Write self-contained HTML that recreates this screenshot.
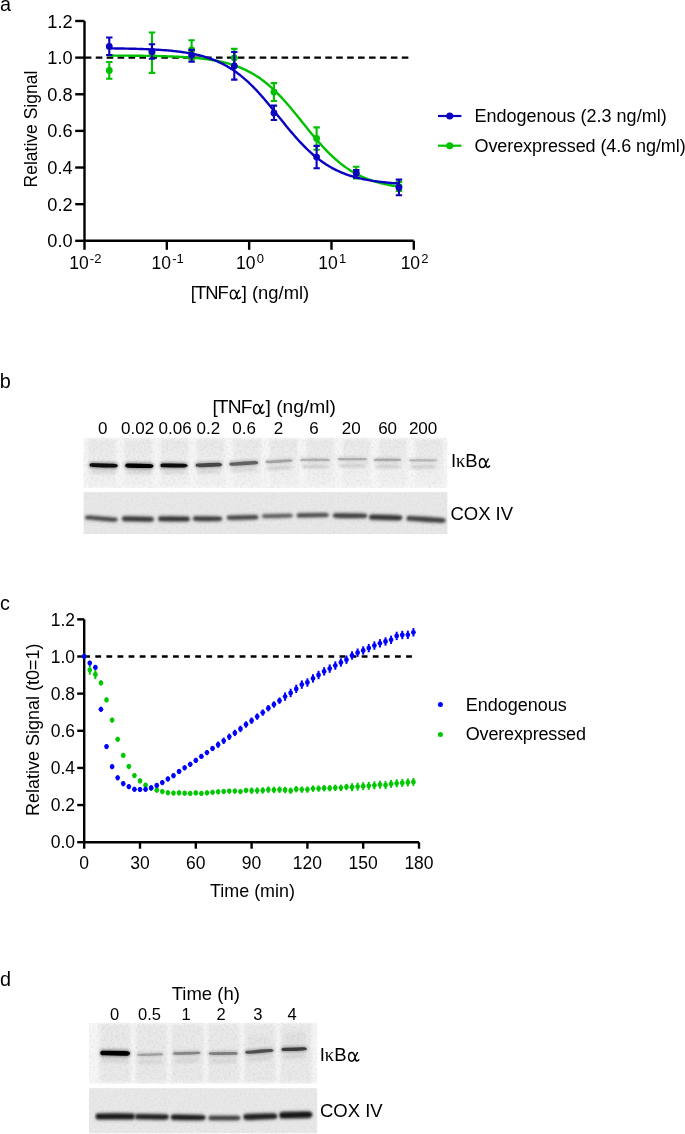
<!DOCTYPE html>
<html><head><meta charset="utf-8"><style>
html,body{margin:0;padding:0;background:#fff;}
body{width:685px;height:1134px;overflow:hidden;font-family:"Liberation Sans", sans-serif;}
svg{display:block;will-change:transform;}
</style></head><body>
<svg width="685" height="1134" viewBox="0 0 685 1134" font-family='"Liberation Sans", sans-serif' fill="#000"><defs><filter id="b1" x="-20%" y="-100%" width="140%" height="300%"><feGaussianBlur stdDeviation="0.75"/></filter><filter id="b2" x="-20%" y="-100%" width="140%" height="300%"><feGaussianBlur stdDeviation="1.4"/></filter><filter id="b4" x="-20%" y="-100%" width="140%" height="300%"><feGaussianBlur stdDeviation="1.05"/></filter><linearGradient id="laneg" x1="0" y1="0" x2="0" y2="1"><stop offset="0" stop-color="rgb(232,232,232)"/><stop offset="0.45" stop-color="rgb(237,237,237)"/><stop offset="1" stop-color="rgb(242,242,242)"/></linearGradient><filter id="noise" x="0" y="0" width="100%" height="100%"><feTurbulence type="fractalNoise" baseFrequency="0.45" numOctaves="2" seed="3" result="t"/><feColorMatrix in="t" type="matrix" values="0 0 0 0 0  0 0 0 0 0  0 0 0 0 0  0.9 0 0 0 -0.38"/><feGaussianBlur stdDeviation="0.7"/><feComposite in2="SourceGraphic" operator="in"/></filter><filter id="b3" x="-20%" y="-100%" width="140%" height="300%"><feGaussianBlur stdDeviation="1.6"/></filter></defs><text x="0" y="10.6" font-size="19.8">a</text>
<path d="M84.5,21.0 V240.8 H413.8" fill="none" stroke="#000" stroke-width="2.4"/>
<line x1="75.2" y1="240.80" x2="84.5" y2="240.80" stroke="#000" stroke-width="2.4"/>
<text x="72.6" y="247.30" font-size="18.2" text-anchor="end">0.0</text>
<line x1="75.2" y1="204.17" x2="84.5" y2="204.17" stroke="#000" stroke-width="2.4"/>
<text x="72.6" y="210.67" font-size="18.2" text-anchor="end">0.2</text>
<line x1="75.2" y1="167.53" x2="84.5" y2="167.53" stroke="#000" stroke-width="2.4"/>
<text x="72.6" y="174.03" font-size="18.2" text-anchor="end">0.4</text>
<line x1="75.2" y1="130.90" x2="84.5" y2="130.90" stroke="#000" stroke-width="2.4"/>
<text x="72.6" y="137.40" font-size="18.2" text-anchor="end">0.6</text>
<line x1="75.2" y1="94.27" x2="84.5" y2="94.27" stroke="#000" stroke-width="2.4"/>
<text x="72.6" y="100.77" font-size="18.2" text-anchor="end">0.8</text>
<line x1="75.2" y1="57.63" x2="84.5" y2="57.63" stroke="#000" stroke-width="2.4"/>
<text x="72.6" y="64.13" font-size="18.2" text-anchor="end">1.0</text>
<line x1="75.2" y1="21.00" x2="84.5" y2="21.00" stroke="#000" stroke-width="2.4"/>
<text x="72.6" y="27.50" font-size="18.2" text-anchor="end">1.2</text>
<line x1="84.50" y1="240.8" x2="84.50" y2="249.8" stroke="#000" stroke-width="2.4"/>
<text x="85.30" y="269.1" font-size="17.5" text-anchor="middle">10<tspan font-size="13" dx="1.2" dy="-6.3">-2</tspan></text>
<line x1="166.82" y1="240.8" x2="166.82" y2="249.8" stroke="#000" stroke-width="2.4"/>
<text x="167.62" y="269.1" font-size="17.5" text-anchor="middle">10<tspan font-size="13" dx="1.2" dy="-6.3">-1</tspan></text>
<line x1="249.15" y1="240.8" x2="249.15" y2="249.8" stroke="#000" stroke-width="2.4"/>
<text x="249.95" y="269.1" font-size="17.5" text-anchor="middle">10<tspan font-size="13" dx="1.2" dy="-6.3">0</tspan></text>
<line x1="331.48" y1="240.8" x2="331.48" y2="249.8" stroke="#000" stroke-width="2.4"/>
<text x="332.28" y="269.1" font-size="17.5" text-anchor="middle">10<tspan font-size="13" dx="1.2" dy="-6.3">1</tspan></text>
<line x1="413.80" y1="240.8" x2="413.80" y2="249.8" stroke="#000" stroke-width="2.4"/>
<text x="414.60" y="269.1" font-size="17.5" text-anchor="middle">10<tspan font-size="13" dx="1.2" dy="-6.3">2</tspan></text>
<text x="190.69" y="298.6" font-size="18.4" letter-spacing="-0.9">[TNF</text><path d="M236.71,294.55 C235.97,291.79 235.05,290.14 233.58,290.14 C231.56,290.14 230.36,292.34 230.36,294.74 C230.36,297.31 231.56,298.88 233.40,298.88 C235.05,298.88 236.16,296.94 236.71,294.55 M239.10,290.32 C238.18,292.16 237.26,293.45 236.71,294.55 C236.89,296.39 237.26,298.23 238.18,298.60 C239.10,298.88 239.84,298.05 240.48,297.31" fill="none" stroke="#000" stroke-width="1.44" stroke-linecap="round"/><text x="241.76" y="298.6" font-size="18.4">] (ng/ml)</text>
<text transform="translate(37.4,129.1) rotate(-90)" font-size="17.5" text-anchor="middle">Relative Signal</text>
<line x1="84.8" y1="57.63" x2="408.6" y2="57.63" stroke="#000" stroke-width="2.3" stroke-dasharray="6.6 4.33"/>
<path d="M109.28,55.56 L110.73,55.56 L112.18,55.57 L113.63,55.58 L115.08,55.58 L116.52,55.59 L117.97,55.60 L119.42,55.61 L120.87,55.62 L122.32,55.62 L123.77,55.63 L125.21,55.64 L126.66,55.65 L128.11,55.66 L129.56,55.68 L131.01,55.69 L132.46,55.70 L133.90,55.72 L135.35,55.73 L136.80,55.74 L138.25,55.76 L139.70,55.78 L141.15,55.80 L142.59,55.81 L144.04,55.83 L145.49,55.85 L146.94,55.88 L148.39,55.90 L149.83,55.92 L151.28,55.95 L152.73,55.98 L154.18,56.01 L155.63,56.04 L157.08,56.07 L158.52,56.10 L159.97,56.14 L161.42,56.17 L162.87,56.21 L164.32,56.26 L165.77,56.30 L167.21,56.35 L168.66,56.39 L170.11,56.45 L171.56,56.50 L173.01,56.56 L174.46,56.62 L175.90,56.68 L177.35,56.75 L178.80,56.82 L180.25,56.89 L181.70,56.97 L183.15,57.05 L184.59,57.14 L186.04,57.23 L187.49,57.33 L188.94,57.43 L190.39,57.53 L191.84,57.65 L193.28,57.77 L194.73,57.89 L196.18,58.02 L197.63,58.16 L199.08,58.31 L200.53,58.46 L201.97,58.62 L203.42,58.79 L204.87,58.97 L206.32,59.16 L207.77,59.35 L209.22,59.56 L210.66,59.78 L212.11,60.01 L213.56,60.25 L215.01,60.51 L216.46,60.77 L217.91,61.05 L219.35,61.35 L220.80,61.66 L222.25,61.98 L223.70,62.32 L225.15,62.68 L226.60,63.05 L228.04,63.45 L229.49,63.86 L230.94,64.29 L232.39,64.74 L233.84,65.21 L235.29,65.71 L236.73,66.23 L238.18,66.77 L239.63,67.34 L241.08,67.93 L242.53,68.55 L243.97,69.20 L245.42,69.87 L246.87,70.58 L248.32,71.31 L249.77,72.07 L251.22,72.87 L252.66,73.70 L254.11,74.56 L255.56,75.45 L257.01,76.38 L258.46,77.35 L259.91,78.34 L261.35,79.38 L262.80,80.45 L264.25,81.56 L265.70,82.70 L267.15,83.89 L268.60,85.11 L270.04,86.36 L271.49,87.66 L272.94,88.99 L274.39,90.35 L275.84,91.75 L277.29,93.19 L278.73,94.66 L280.18,96.17 L281.63,97.70 L283.08,99.27 L284.53,100.87 L285.98,102.50 L287.42,104.15 L288.87,105.83 L290.32,107.53 L291.77,109.25 L293.22,110.99 L294.67,112.74 L296.11,114.51 L297.56,116.29 L299.01,118.09 L300.46,119.88 L301.91,121.69 L303.36,123.49 L304.80,125.29 L306.25,127.09 L307.70,128.89 L309.15,130.67 L310.60,132.45 L312.05,134.21 L313.49,135.95 L314.94,137.68 L316.39,139.39 L317.84,141.07 L319.29,142.74 L320.74,144.37 L322.18,145.98 L323.63,147.56 L325.08,149.10 L326.53,150.62 L327.98,152.10 L329.43,153.55 L330.87,154.97 L332.32,156.34 L333.77,157.69 L335.22,158.99 L336.67,160.26 L338.12,161.49 L339.56,162.69 L341.01,163.85 L342.46,164.97 L343.91,166.05 L345.36,167.10 L346.80,168.11 L348.25,169.09 L349.70,170.03 L351.15,170.93 L352.60,171.80 L354.05,172.64 L355.49,173.45 L356.94,174.22 L358.39,174.97 L359.84,175.68 L361.29,176.37 L362.74,177.02 L364.18,177.65 L365.63,178.25 L367.08,178.83 L368.53,179.38 L369.98,179.91 L371.43,180.41 L372.87,180.89 L374.32,181.35 L375.77,181.79 L377.22,182.21 L378.67,182.61 L380.12,182.99 L381.56,183.35 L383.01,183.70 L384.46,184.03 L385.91,184.34 L387.36,184.64 L388.81,184.93 L390.25,185.20 L391.70,185.45 L393.15,185.70 L394.60,185.93 L396.05,186.16 L397.50,186.37 L398.94,186.57" fill="none" stroke="#00c000" stroke-width="2.4"/>
<path d="M109.28,62.0 V78.8 M106.08,62.0 h6.4 M106.08,78.8 h6.4" stroke="#00c000" stroke-width="2.1" fill="none"/><circle cx="109.28" cy="70.4" r="3.4" fill="#00c000"/><path d="M151.97,32.5 V72.9 M148.77,32.5 h6.4 M148.77,72.9 h6.4" stroke="#00c000" stroke-width="2.1" fill="none"/><circle cx="151.97" cy="52.7" r="3.4" fill="#00c000"/><path d="M191.61,40.3 V59.8 M188.41,40.3 h6.4 M188.41,59.8 h6.4" stroke="#00c000" stroke-width="2.1" fill="none"/><circle cx="191.61" cy="49.9" r="3.4" fill="#00c000"/><path d="M234.29,48.9 V67.0 M231.09,48.9 h6.4 M231.09,67.0 h6.4" stroke="#00c000" stroke-width="2.1" fill="none"/><circle cx="234.29" cy="58.0" r="3.4" fill="#00c000"/><path d="M273.93,83.1 V101.0 M270.73,83.1 h6.4 M270.73,101.0 h6.4" stroke="#00c000" stroke-width="2.1" fill="none"/><circle cx="273.93" cy="92.0" r="3.4" fill="#00c000"/><path d="M316.62,127.4 V149.8 M313.42,127.4 h6.4 M313.42,149.8 h6.4" stroke="#00c000" stroke-width="2.1" fill="none"/><circle cx="316.62" cy="138.4" r="3.4" fill="#00c000"/><path d="M356.26,166.8 V178.5 M353.06,166.8 h6.4 M353.06,178.5 h6.4" stroke="#00c000" stroke-width="2.1" fill="none"/><circle cx="356.26" cy="172.6" r="3.4" fill="#00c000"/><path d="M398.94,182 V191 M395.74,182 h6.4 M395.74,191 h6.4" stroke="#00c000" stroke-width="2.1" fill="none"/><circle cx="398.94" cy="186.6" r="3.4" fill="#00c000"/>
<path d="M109.28,48.36 L110.73,48.38 L112.18,48.39 L113.63,48.41 L115.08,48.43 L116.52,48.45 L117.97,48.47 L119.42,48.49 L120.87,48.51 L122.32,48.54 L123.77,48.56 L125.21,48.59 L126.66,48.62 L128.11,48.65 L129.56,48.68 L131.01,48.71 L132.46,48.74 L133.90,48.78 L135.35,48.82 L136.80,48.86 L138.25,48.90 L139.70,48.95 L141.15,48.99 L142.59,49.04 L144.04,49.09 L145.49,49.15 L146.94,49.21 L148.39,49.27 L149.83,49.33 L151.28,49.40 L152.73,49.47 L154.18,49.54 L155.63,49.62 L157.08,49.70 L158.52,49.79 L159.97,49.88 L161.42,49.98 L162.87,50.08 L164.32,50.19 L165.77,50.30 L167.21,50.42 L168.66,50.54 L170.11,50.67 L171.56,50.81 L173.01,50.96 L174.46,51.11 L175.90,51.27 L177.35,51.44 L178.80,51.62 L180.25,51.80 L181.70,52.00 L183.15,52.20 L184.59,52.42 L186.04,52.65 L187.49,52.89 L188.94,53.14 L190.39,53.40 L191.84,53.68 L193.28,53.96 L194.73,54.27 L196.18,54.59 L197.63,54.92 L199.08,55.27 L200.53,55.64 L201.97,56.03 L203.42,56.43 L204.87,56.85 L206.32,57.29 L207.77,57.76 L209.22,58.24 L210.66,58.75 L212.11,59.28 L213.56,59.83 L215.01,60.41 L216.46,61.01 L217.91,61.64 L219.35,62.30 L220.80,62.99 L222.25,63.70 L223.70,64.44 L225.15,65.22 L226.60,66.02 L228.04,66.86 L229.49,67.73 L230.94,68.63 L232.39,69.57 L233.84,70.54 L235.29,71.55 L236.73,72.59 L238.18,73.66 L239.63,74.78 L241.08,75.93 L242.53,77.11 L243.97,78.34 L245.42,79.60 L246.87,80.89 L248.32,82.22 L249.77,83.59 L251.22,84.99 L252.66,86.43 L254.11,87.90 L255.56,89.40 L257.01,90.94 L258.46,92.50 L259.91,94.10 L261.35,95.72 L262.80,97.37 L264.25,99.04 L265.70,100.74 L267.15,102.46 L268.60,104.19 L270.04,105.94 L271.49,107.71 L272.94,109.49 L274.39,111.28 L275.84,113.08 L277.29,114.88 L278.73,116.68 L280.18,118.48 L281.63,120.28 L283.08,122.08 L284.53,123.87 L285.98,125.65 L287.42,127.41 L288.87,129.16 L290.32,130.90 L291.77,132.61 L293.22,134.31 L294.67,135.98 L296.11,137.63 L297.56,139.25 L299.01,140.84 L300.46,142.41 L301.91,143.94 L303.36,145.44 L304.80,146.91 L306.25,148.35 L307.70,149.75 L309.15,151.11 L310.60,152.44 L312.05,153.74 L313.49,154.99 L314.94,156.21 L316.39,157.40 L317.84,158.55 L319.29,159.66 L320.74,160.73 L322.18,161.77 L323.63,162.78 L325.08,163.75 L326.53,164.68 L327.98,165.58 L329.43,166.45 L330.87,167.28 L332.32,168.09 L333.77,168.86 L335.22,169.60 L336.67,170.31 L338.12,171.00 L339.56,171.65 L341.01,172.28 L342.46,172.88 L343.91,173.46 L345.36,174.01 L346.80,174.54 L348.25,175.05 L349.70,175.53 L351.15,175.99 L352.60,176.43 L354.05,176.86 L355.49,177.26 L356.94,177.64 L358.39,178.01 L359.84,178.36 L361.29,178.69 L362.74,179.01 L364.18,179.31 L365.63,179.60 L367.08,179.88 L368.53,180.14 L369.98,180.39 L371.43,180.63 L372.87,180.85 L374.32,181.07 L375.77,181.28 L377.22,181.47 L378.67,181.66 L380.12,181.83 L381.56,182.00 L383.01,182.16 L384.46,182.31 L385.91,182.46 L387.36,182.60 L388.81,182.73 L390.25,182.85 L391.70,182.97 L393.15,183.08 L394.60,183.19 L396.05,183.29 L397.50,183.38 L398.94,183.48" fill="none" stroke="#0a02be" stroke-width="2.4"/>
<path d="M109.28,37.5 V55.0 M106.08,37.5 h6.4 M106.08,55.0 h6.4" stroke="#0a02be" stroke-width="2.1" fill="none"/><circle cx="109.28" cy="46.4" r="3.4" fill="#0a02be"/><path d="M151.97,44.3 V58.7 M148.77,44.3 h6.4 M148.77,58.7 h6.4" stroke="#0a02be" stroke-width="2.1" fill="none"/><circle cx="151.97" cy="51.5" r="3.4" fill="#0a02be"/><path d="M191.61,49.9 V61.8 M188.41,49.9 h6.4 M188.41,61.8 h6.4" stroke="#0a02be" stroke-width="2.1" fill="none"/><circle cx="191.61" cy="55.1" r="3.4" fill="#0a02be"/><path d="M234.29,52.0 V79.6 M231.09,52.0 h6.4 M231.09,79.6 h6.4" stroke="#0a02be" stroke-width="2.1" fill="none"/><circle cx="234.29" cy="66.0" r="3.4" fill="#0a02be"/><path d="M273.93,105.6 V120.0 M270.73,105.6 h6.4 M270.73,120.0 h6.4" stroke="#0a02be" stroke-width="2.1" fill="none"/><circle cx="273.93" cy="113.0" r="3.4" fill="#0a02be"/><path d="M316.62,145.9 V168.2 M313.42,145.9 h6.4 M313.42,168.2 h6.4" stroke="#0a02be" stroke-width="2.1" fill="none"/><circle cx="316.62" cy="157.1" r="3.4" fill="#0a02be"/><path d="M356.26,170.0 V177.8 M353.06,170.0 h6.4 M353.06,177.8 h6.4" stroke="#0a02be" stroke-width="2.1" fill="none"/><circle cx="356.26" cy="173.4" r="3.4" fill="#0a02be"/><path d="M398.94,179.6 V195.3 M395.74,179.6 h6.4 M395.74,195.3 h6.4" stroke="#0a02be" stroke-width="2.1" fill="none"/><circle cx="398.94" cy="187.4" r="3.4" fill="#0a02be"/>
<line x1="438" y1="116" x2="461.4" y2="116" stroke="#0a02be" stroke-width="2.2"/><circle cx="449.7" cy="116" r="3.5" fill="#0a02be"/>
<line x1="438" y1="145.7" x2="461.4" y2="145.7" stroke="#00c000" stroke-width="2.2"/><circle cx="449.7" cy="145.7" r="3.5" fill="#00c000"/>
<text x="474.5" y="122" font-size="18">Endogenous (2.3 ng/ml)</text>
<text x="474.5" y="152" font-size="18" letter-spacing="-0.08">Overexpressed (4.6 ng/ml)</text>
<text x="-0.2" y="388" font-size="19.8">b</text>
<text x="212.43" y="413.4" font-size="19.2" letter-spacing="-0.9">[TNF</text><path d="M260.20,409.18 C259.44,406.30 258.48,404.57 256.94,404.57 C254.83,404.57 253.58,406.87 253.58,409.37 C253.58,412.06 254.83,413.69 256.75,413.69 C258.48,413.69 259.63,411.67 260.20,409.18 M262.70,404.76 C261.74,406.68 260.78,408.02 260.20,409.18 C260.40,411.10 260.78,413.02 261.74,413.40 C262.70,413.69 263.47,412.82 264.14,412.06" fill="none" stroke="#000" stroke-width="1.50" stroke-linecap="round"/><text x="265.55" y="413.4" font-size="19.2">] (ng/ml)</text>
<text x="102.75" y="434" font-size="17" text-anchor="middle">0</text>
<text x="137.60" y="434" font-size="17" text-anchor="middle">0.02</text>
<text x="175.10" y="434" font-size="17" text-anchor="middle">0.06</text>
<text x="208.40" y="434" font-size="17" text-anchor="middle">0.2</text>
<text x="244.10" y="434" font-size="17" text-anchor="middle">0.6</text>
<text x="278.60" y="434" font-size="17" text-anchor="middle">2</text>
<text x="314.10" y="434" font-size="17" text-anchor="middle">6</text>
<text x="351.20" y="434" font-size="17" text-anchor="middle">20</text>
<text x="387.60" y="434" font-size="17" text-anchor="middle">60</text>
<text x="423.10" y="434" font-size="17" text-anchor="middle">200</text>
<rect x="83.6" y="437.9" width="363.79999999999995" height="50.1" fill="rgb(246,246,246)"/>
<rect x="83.6" y="492.1" width="363.79999999999995" height="42.0" fill="rgb(232,232,232)"/>
<rect x="88.1" y="439.5" width="27.4" height="46.5" fill="url(#laneg)" filter="url(#b2)"/>
<rect x="124.5" y="439.5" width="27.4" height="46.5" fill="url(#laneg)" filter="url(#b2)"/>
<rect x="160.9" y="439.5" width="27.4" height="46.5" fill="url(#laneg)" filter="url(#b2)"/>
<rect x="197.2" y="439.5" width="27.4" height="46.5" fill="url(#laneg)" filter="url(#b2)"/>
<rect x="233.6" y="439.5" width="27.4" height="46.5" fill="url(#laneg)" filter="url(#b2)"/>
<rect x="270.0" y="439.5" width="27.4" height="46.5" fill="url(#laneg)" filter="url(#b2)"/>
<rect x="306.4" y="439.5" width="27.4" height="46.5" fill="url(#laneg)" filter="url(#b2)"/>
<rect x="342.8" y="439.5" width="27.4" height="46.5" fill="url(#laneg)" filter="url(#b2)"/>
<rect x="379.1" y="439.5" width="27.4" height="46.5" fill="url(#laneg)" filter="url(#b2)"/>
<rect x="415.5" y="439.5" width="27.4" height="46.5" fill="url(#laneg)" filter="url(#b2)"/>
<path d="M90.5,471.7 C90.5,470.2 92.5,470.2 94.5,470.2 Q103.7,470.2 112.8,470.8 C114.8,470.8 116.8,471.4 116.8,472.3 C116.8,473.2 114.8,473.8 112.8,473.8 Q103.7,473.8 94.5,473.2 C92.5,473.2 90.5,473.2 90.5,471.7Z" fill="rgb(214,214,214)" filter="url(#b3)"/>
<path d="M126.2,472.2 C126.2,470.7 128.2,470.7 130.2,470.7 Q139.3,470.6 148.5,471.1 C150.5,471.1 152.5,471.7 152.5,472.6 C152.5,473.5 150.5,474.1 148.5,474.1 Q139.3,474.2 130.2,473.7 C128.2,473.7 126.2,473.7 126.2,472.2Z" fill="rgb(214,214,214)" filter="url(#b3)"/>
<path d="M161.4,472.0 C161.4,470.5 163.4,470.5 165.4,470.5 Q174.1,470.3 182.7,470.7 C184.7,470.7 186.7,471.3 186.7,472.2 C186.7,473.1 184.7,473.7 182.7,473.7 Q174.1,473.9 165.4,473.5 C163.4,473.5 161.4,473.5 161.4,472.0Z" fill="rgb(214,214,214)" filter="url(#b3)"/>
<path d="M196.6,471.9 C196.6,470.4 198.6,470.4 200.6,470.4 Q208.8,469.8 217.1,469.8 C219.1,469.8 221.1,470.4 221.1,471.3 C221.1,472.2 219.1,472.8 217.1,472.8 Q208.8,473.4 200.6,473.4 C198.6,473.4 196.6,473.4 196.6,471.9Z" fill="rgb(214,214,214)" filter="url(#b3)"/>
<path d="M230.3,470.7 C230.3,469.2 232.3,469.2 234.3,469.2 Q243.8,468.2 253.3,467.8 C255.3,467.8 257.3,468.4 257.3,469.3 C257.3,470.2 255.3,470.8 253.3,470.8 Q243.8,471.8 234.3,472.2 C232.3,472.2 230.3,472.2 230.3,470.7Z" fill="rgb(214,214,214)" filter="url(#b3)"/>
<path d="M266.5,468.4 C266.5,467.1 268.5,467.1 270.5,467.1 Q279.1,466.2 287.8,465.9 C289.8,465.9 291.8,466.4 291.8,467.2 C291.8,468.0 289.8,468.5 287.8,468.5 Q279.1,469.4 270.5,469.7 C268.5,469.7 266.5,469.7 266.5,468.4Z" fill="rgb(200,200,200)" filter="url(#b3)"/>
<path d="M301.5,466.5 C301.5,465.2 303.5,465.2 305.5,465.2 Q315.2,464.9 325.0,465.2 C327.0,465.2 329.0,465.7 329.0,466.5 C329.0,467.3 327.0,467.8 325.0,467.8 Q315.2,468.1 305.5,467.8 C303.5,467.8 301.5,467.8 301.5,466.5Z" fill="rgb(200,200,200)" filter="url(#b3)"/>
<path d="M338.7,465.8 C338.7,464.5 340.7,464.5 342.7,464.5 Q352.5,464.2 362.3,464.5 C364.3,464.5 366.3,465.0 366.3,465.8 C366.3,466.6 364.3,467.1 362.3,467.1 Q352.5,467.4 342.7,467.1 C340.7,467.1 338.7,467.1 338.7,465.8Z" fill="rgb(200,200,200)" filter="url(#b3)"/>
<path d="M374.8,466.5 C374.8,465.2 376.8,465.2 378.8,465.2 Q387.5,464.9 396.2,465.2 C398.2,465.2 400.2,465.7 400.2,466.5 C400.2,467.3 398.2,467.8 396.2,467.8 Q387.5,468.1 378.8,467.8 C376.8,467.8 374.8,467.8 374.8,466.5Z" fill="rgb(200,200,200)" filter="url(#b3)"/>
<path d="M409.9,466.9 C409.9,465.6 411.9,465.6 413.9,465.6 Q423.1,465.3 432.3,465.6 C434.3,465.6 436.3,466.1 436.3,466.9 C436.3,467.7 434.3,468.2 432.3,468.2 Q423.1,468.5 413.9,468.2 C411.9,468.2 409.9,468.2 409.9,466.9Z" fill="rgb(200,200,200)" filter="url(#b3)"/>
<path d="M89.0,465.1 C89.0,461.9 91.0,461.9 93.0,461.9 Q103.7,461.9 114.3,462.5 C116.3,462.5 118.3,463.8 118.3,465.7 C118.3,467.6 116.3,468.9 114.3,468.9 Q103.7,468.9 93.0,468.3 C91.0,468.3 89.0,468.3 89.0,465.1Z" fill="rgb(138,138,138)" filter="url(#b2)"/><path d="M89.5,465.1 C89.5,463.2 91.5,463.2 93.5,463.2 Q103.7,463.2 113.8,463.8 C115.8,463.8 117.8,464.6 117.8,465.7 C117.8,466.8 115.8,467.6 113.8,467.6 Q103.7,467.6 93.5,467.0 C91.5,467.0 89.5,467.0 89.5,465.1Z" fill="rgb(8,8,8)" filter="url(#b1)"/>
<path d="M124.7,465.6 C124.7,462.2 126.7,462.2 128.7,462.2 Q139.3,462.1 150.0,462.6 C152.0,462.6 154.0,464.0 154.0,466.0 C154.0,468.0 152.0,469.4 150.0,469.4 Q139.3,469.5 128.7,469.0 C126.7,469.0 124.7,469.0 124.7,465.6Z" fill="rgb(137,137,137)" filter="url(#b2)"/><path d="M125.2,465.6 C125.2,463.5 127.2,463.5 129.2,463.5 Q139.3,463.4 149.5,463.9 C151.5,463.9 153.5,464.7 153.5,466.0 C153.5,467.3 151.5,468.1 149.5,468.1 Q139.3,468.2 129.2,467.7 C127.2,467.7 125.2,467.7 125.2,465.6Z" fill="rgb(5,5,5)" filter="url(#b1)"/>
<path d="M159.9,465.4 C159.9,462.2 161.9,462.2 163.9,462.2 Q174.1,462.0 184.2,462.4 C186.2,462.4 188.2,463.7 188.2,465.6 C188.2,467.5 186.2,468.8 184.2,468.8 Q174.1,469.0 163.9,468.6 C161.9,468.6 159.9,468.6 159.9,465.4Z" fill="rgb(140,140,140)" filter="url(#b2)"/><path d="M160.4,465.4 C160.4,463.5 162.4,463.5 164.4,463.5 Q174.1,463.3 183.7,463.7 C185.7,463.7 187.7,464.5 187.7,465.6 C187.7,466.7 185.7,467.5 183.7,467.5 Q174.1,467.7 164.4,467.3 C162.4,467.3 160.4,467.3 160.4,465.4Z" fill="rgb(12,12,12)" filter="url(#b1)"/>
<path d="M195.1,465.3 C195.1,462.2 197.1,462.2 199.1,462.2 Q208.8,461.6 218.6,461.6 C220.6,461.6 222.6,462.8 222.6,464.7 C222.6,466.6 220.6,467.8 218.6,467.8 Q208.8,468.4 199.1,468.4 C197.1,468.4 195.1,468.4 195.1,465.3Z" fill="rgb(167,167,167)" filter="url(#b2)"/><path d="M195.6,465.3 C195.6,463.4 197.6,463.4 199.6,463.4 Q208.8,462.8 218.1,462.8 C220.1,462.8 222.1,463.6 222.1,464.7 C222.1,465.8 220.1,466.6 218.1,466.6 Q208.8,467.2 199.6,467.2 C197.6,467.2 195.6,467.2 195.6,465.3Z" fill="rgb(72,72,72)" filter="url(#b1)"/>
<path d="M228.8,464.1 C228.8,461.1 230.8,461.1 232.8,461.1 Q243.8,460.1 254.8,459.7 C256.8,459.7 258.8,460.9 258.8,462.7 C258.8,464.5 256.8,465.7 254.8,465.7 Q243.8,466.7 232.8,467.1 C230.8,467.1 228.8,467.1 228.8,464.1Z" fill="rgb(180,180,180)" filter="url(#b2)"/><path d="M229.3,464.1 C229.3,462.4 231.3,462.4 233.3,462.4 Q243.8,461.4 254.3,461.0 C256.3,461.0 258.3,461.7 258.3,462.7 C258.3,463.7 256.3,464.4 254.3,464.4 Q243.8,465.4 233.3,465.8 C231.3,465.8 229.3,465.8 229.3,464.1Z" fill="rgb(100,100,100)" filter="url(#b1)"/>
<path d="M265.0,461.8 C265.0,459.2 267.0,459.2 269.0,459.2 Q279.1,458.3 289.3,458.0 C291.3,458.0 293.3,459.0 293.3,460.6 C293.3,462.2 291.3,463.2 289.3,463.2 Q279.1,464.2 269.0,464.4 C267.0,464.4 265.0,464.4 265.0,461.8Z" fill="rgb(210,210,210)" filter="url(#b2)"/><path d="M265.5,461.8 C265.5,460.4 267.5,460.4 269.5,460.4 Q279.1,459.6 288.8,459.2 C290.8,459.2 292.8,459.8 292.8,460.6 C292.8,461.4 290.8,462.0 288.8,462.0 Q279.1,462.9 269.5,463.2 C267.5,463.2 265.5,463.2 265.5,461.8Z" fill="rgb(166,166,166)" filter="url(#b1)"/>
<path d="M300.0,459.9 C300.0,457.4 302.0,457.4 304.0,457.4 Q315.2,457.1 326.5,457.4 C328.5,457.4 330.5,458.4 330.5,459.9 C330.5,461.4 328.5,462.3 326.5,462.3 Q315.2,462.6 304.0,462.3 C302.0,462.3 300.0,462.3 300.0,459.9Z" fill="rgb(215,215,215)" filter="url(#b2)"/><path d="M300.5,459.9 C300.5,458.8 302.5,458.8 304.5,458.8 Q315.2,458.4 326.0,458.8 C328.0,458.8 330.0,459.2 330.0,459.9 C330.0,460.6 328.0,461.0 326.0,461.0 Q315.2,461.3 304.5,461.0 C302.5,461.0 300.5,461.0 300.5,459.9Z" fill="rgb(178,178,178)" filter="url(#b1)"/>
<path d="M337.2,459.2 C337.2,456.8 339.2,456.8 341.2,456.8 Q352.5,456.4 363.8,456.8 C365.8,456.8 367.8,457.7 367.8,459.2 C367.8,460.7 365.8,461.6 363.8,461.6 Q352.5,461.9 341.2,461.6 C339.2,461.6 337.2,461.6 337.2,459.2Z" fill="rgb(214,214,214)" filter="url(#b2)"/><path d="M337.7,459.2 C337.7,458.1 339.7,458.1 341.7,458.1 Q352.5,457.8 363.3,458.1 C365.3,458.1 367.3,458.5 367.3,459.2 C367.3,459.9 365.3,460.3 363.3,460.3 Q352.5,460.6 341.7,460.3 C339.7,460.3 337.7,460.3 337.7,459.2Z" fill="rgb(176,176,176)" filter="url(#b1)"/>
<path d="M373.3,459.9 C373.3,457.4 375.3,457.4 377.3,457.4 Q387.5,457.1 397.7,457.4 C399.7,457.4 401.7,458.4 401.7,459.9 C401.7,461.4 399.7,462.3 397.7,462.3 Q387.5,462.6 377.3,462.3 C375.3,462.3 373.3,462.3 373.3,459.9Z" fill="rgb(211,211,211)" filter="url(#b2)"/><path d="M373.8,459.9 C373.8,458.8 375.8,458.8 377.8,458.8 Q387.5,458.4 397.2,458.8 C399.2,458.8 401.2,459.2 401.2,459.9 C401.2,460.6 399.2,461.0 397.2,461.0 Q387.5,461.3 377.8,461.0 C375.8,461.0 373.8,461.0 373.8,459.9Z" fill="rgb(170,170,170)" filter="url(#b1)"/>
<path d="M408.4,460.3 C408.4,457.9 410.4,457.9 412.4,457.9 Q423.1,457.6 433.8,457.9 C435.8,457.9 437.8,458.9 437.8,460.3 C437.8,461.7 435.8,462.7 433.8,462.7 Q423.1,463.0 412.4,462.7 C410.4,462.7 408.4,462.7 408.4,460.3Z" fill="rgb(219,219,219)" filter="url(#b2)"/><path d="M408.9,460.3 C408.9,459.2 410.9,459.2 412.9,459.2 Q423.1,458.9 433.3,459.2 C435.3,459.2 437.3,459.6 437.3,460.3 C437.3,461.0 435.3,461.4 433.3,461.4 Q423.1,461.7 412.9,461.4 C410.9,461.4 408.9,461.4 408.9,460.3Z" fill="rgb(186,186,186)" filter="url(#b1)"/>
<path d="M84.9,517.5 C84.9,514.4 86.9,514.4 88.9,514.4 Q101.5,515.1 114.0,516.5 C116.0,516.5 118.0,517.7 118.0,519.6 C118.0,521.5 116.0,522.7 114.0,522.7 Q101.5,521.9 88.9,520.6 C86.9,520.6 84.9,520.6 84.9,517.5Z" fill="rgb(166,166,166)" filter="url(#b2)"/><path d="M85.4,517.5 C85.4,515.9 87.4,515.9 89.4,515.9 Q101.5,516.6 113.5,518.0 C115.5,518.0 117.5,518.6 117.5,519.6 C117.5,520.6 115.5,521.2 113.5,521.2 Q101.5,520.4 89.4,519.1 C87.4,519.1 85.4,519.1 85.4,517.5Z" fill="rgb(68,68,68)" filter="url(#b4)"/>
<path d="M121.8,518.8 C121.8,515.3 123.8,515.3 125.8,515.3 Q138.0,515.2 150.2,515.7 C152.2,515.7 154.2,517.1 154.2,519.2 C154.2,521.3 152.2,522.7 150.2,522.7 Q138.0,522.8 125.8,522.3 C123.8,522.3 121.8,522.3 121.8,518.8Z" fill="rgb(162,162,162)" filter="url(#b2)"/><path d="M122.3,518.8 C122.3,516.8 124.3,516.8 126.3,516.8 Q138.0,516.7 149.7,517.2 C151.7,517.2 153.7,518.0 153.7,519.2 C153.7,520.4 151.7,521.2 149.7,521.2 Q138.0,521.3 126.3,520.8 C124.3,520.8 122.3,520.8 122.3,518.8Z" fill="rgb(58,58,58)" filter="url(#b4)"/>
<path d="M158.0,518.8 C158.0,515.3 160.0,515.3 162.0,515.3 Q174.2,515.1 186.3,515.5 C188.3,515.5 190.3,516.9 190.3,519.0 C190.3,521.1 188.3,522.5 186.3,522.5 Q174.2,522.7 162.0,522.3 C160.0,522.3 158.0,522.3 158.0,518.8Z" fill="rgb(161,161,161)" filter="url(#b2)"/><path d="M158.5,518.8 C158.5,516.8 160.5,516.8 162.5,516.8 Q174.2,516.6 185.8,517.0 C187.8,517.0 189.8,517.8 189.8,519.0 C189.8,520.2 187.8,521.0 185.8,521.0 Q174.2,521.2 162.5,520.8 C160.5,520.8 158.5,520.8 158.5,518.8Z" fill="rgb(56,56,56)" filter="url(#b4)"/>
<path d="M192.7,518.6 C192.7,515.2 194.7,515.2 196.7,515.2 Q207.6,515.1 218.6,515.4 C220.6,515.4 222.6,516.8 222.6,518.8 C222.6,520.8 220.6,522.1 218.6,522.1 Q207.6,522.4 196.7,522.0 C194.7,522.0 192.7,522.0 192.7,518.6Z" fill="rgb(163,163,163)" filter="url(#b2)"/><path d="M193.2,518.6 C193.2,516.8 195.2,516.8 197.2,516.8 Q207.6,516.6 218.1,516.9 C220.1,516.9 222.1,517.7 222.1,518.8 C222.1,519.9 220.1,520.6 218.1,520.6 Q207.6,520.9 197.2,520.5 C195.2,520.5 193.2,520.5 193.2,518.6Z" fill="rgb(60,60,60)" filter="url(#b4)"/>
<path d="M226.5,517.6 C226.5,514.4 228.5,514.4 230.5,514.4 Q242.7,513.9 254.8,514.0 C256.8,514.0 258.8,515.2 258.8,517.2 C258.8,519.2 256.8,520.5 254.8,520.5 Q242.7,521.0 230.5,520.9 C228.5,520.9 226.5,520.9 226.5,517.6Z" fill="rgb(167,167,167)" filter="url(#b2)"/><path d="M227.0,517.6 C227.0,515.9 229.0,515.9 231.0,515.9 Q242.7,515.4 254.3,515.5 C256.3,515.5 258.3,516.2 258.3,517.2 C258.3,518.2 256.3,519.0 254.3,519.0 Q242.7,519.5 231.0,519.4 C229.0,519.4 227.0,519.4 227.0,517.6Z" fill="rgb(70,70,70)" filter="url(#b4)"/>
<path d="M261.8,516.2 C261.8,513.3 263.8,513.3 265.8,513.3 Q277.6,512.7 289.3,512.7 C291.3,512.7 293.3,513.9 293.3,515.6 C293.3,517.3 291.3,518.5 289.3,518.5 Q277.6,519.1 265.8,519.1 C263.8,519.1 261.8,519.1 261.8,516.2Z" fill="rgb(174,174,174)" filter="url(#b2)"/><path d="M262.3,516.2 C262.3,514.8 264.3,514.8 266.3,514.8 Q277.6,514.2 288.8,514.2 C290.8,514.2 292.8,514.8 292.8,515.6 C292.8,516.4 290.8,517.0 288.8,517.0 Q277.6,517.6 266.3,517.6 C264.3,517.6 262.3,517.6 262.3,516.2Z" fill="rgb(88,88,88)" filter="url(#b4)"/>
<path d="M296.5,515.4 C296.5,512.3 298.5,512.3 300.5,512.3 Q312.8,511.8 325.1,511.9 C327.1,511.9 329.1,513.1 329.1,515.0 C329.1,516.9 327.1,518.1 325.1,518.1 Q312.8,518.6 300.5,518.5 C298.5,518.5 296.5,518.5 296.5,515.4Z" fill="rgb(168,168,168)" filter="url(#b2)"/><path d="M297.0,515.4 C297.0,513.8 299.0,513.8 301.0,513.8 Q312.8,513.3 324.6,513.4 C326.6,513.4 328.6,514.0 328.6,515.0 C328.6,516.0 326.6,516.6 324.6,516.6 Q312.8,517.1 301.0,517.0 C299.0,517.0 297.0,517.0 297.0,515.4Z" fill="rgb(73,73,73)" filter="url(#b4)"/>
<path d="M332.7,515.6 C332.7,512.3 334.7,512.3 336.7,512.3 Q350.1,512.1 363.6,512.5 C365.6,512.5 367.6,513.8 367.6,515.8 C367.6,517.8 365.6,519.1 363.6,519.1 Q350.1,519.3 336.7,518.9 C334.7,518.9 332.7,518.9 332.7,515.6Z" fill="rgb(164,164,164)" filter="url(#b2)"/><path d="M333.2,515.6 C333.2,513.8 335.2,513.8 337.2,513.8 Q350.1,513.6 363.1,514.0 C365.1,514.0 367.1,514.7 367.1,515.8 C367.1,516.9 365.1,517.6 363.1,517.6 Q350.1,517.8 337.2,517.4 C335.2,517.4 333.2,517.4 333.2,515.6Z" fill="rgb(63,63,63)" filter="url(#b4)"/>
<path d="M368.9,517.2 C368.9,513.6 370.9,513.6 372.9,513.6 Q385.8,513.6 398.6,514.2 C400.6,514.2 402.6,515.6 402.6,517.8 C402.6,520.0 400.6,521.4 398.6,521.4 Q385.8,521.4 372.9,520.8 C370.9,520.8 368.9,520.8 368.9,517.2Z" fill="rgb(161,161,161)" filter="url(#b2)"/><path d="M369.4,517.2 C369.4,515.1 371.4,515.1 373.4,515.1 Q385.8,515.1 398.1,515.7 C400.1,515.7 402.1,516.5 402.1,517.8 C402.1,519.1 400.1,519.9 398.1,519.9 Q385.8,519.9 373.4,519.3 C371.4,519.3 369.4,519.3 369.4,517.2Z" fill="rgb(56,56,56)" filter="url(#b4)"/>
<path d="M406.3,518.4 C406.3,515.0 408.3,515.0 410.3,515.0 Q426.1,515.7 441.9,517.0 C443.9,517.0 445.9,518.4 445.9,520.4 C445.9,522.4 443.9,523.8 441.9,523.8 Q426.1,523.1 410.3,521.8 C408.3,521.8 406.3,521.8 406.3,518.4Z" fill="rgb(164,164,164)" filter="url(#b2)"/><path d="M406.8,518.4 C406.8,516.5 408.8,516.5 410.8,516.5 Q426.1,517.2 441.4,518.5 C443.4,518.5 445.4,519.3 445.4,520.4 C445.4,521.5 443.4,522.3 441.4,522.3 Q426.1,521.6 410.8,520.3 C408.8,520.3 406.8,520.3 406.8,518.4Z" fill="rgb(63,63,63)" filter="url(#b4)"/>
<rect x="83.6" y="437.9" width="363.79999999999995" height="50.1" filter="url(#noise)" opacity="0.15"/>
<rect x="83.6" y="492.1" width="363.79999999999995" height="42.0" filter="url(#noise)" opacity="0.1"/>
<text x="450.89" y="467.3" font-size="18.5">I<tspan font-family="Liberation Serif">κ</tspan>B</text><path d="M485.85,463.23 C485.11,460.45 484.18,458.79 482.70,458.79 C480.67,458.79 479.46,461.01 479.46,463.42 C479.46,466.00 480.67,467.58 482.51,467.58 C484.18,467.58 485.29,465.63 485.85,463.23 M488.25,458.98 C487.32,460.82 486.40,462.12 485.85,463.23 C486.03,465.08 486.40,466.93 487.32,467.30 C488.25,467.58 488.99,466.75 489.64,466.00" fill="none" stroke="#000" stroke-width="1.44" stroke-linecap="round"/>
<text x="450.4" y="519.6" font-size="18.5">COX IV</text>
<text x="0" y="610.4" font-size="19.8">c</text>
<path d="M84.2,619.36 V842.2 H419.00" fill="none" stroke="#000" stroke-width="2.4"/>
<line x1="77.2" y1="842.20" x2="84.2" y2="842.20" stroke="#000" stroke-width="2.4"/>
<text x="75" y="848.40" font-size="17.5" text-anchor="end">0.0</text>
<line x1="77.2" y1="805.06" x2="84.2" y2="805.06" stroke="#000" stroke-width="2.4"/>
<text x="75" y="811.26" font-size="17.5" text-anchor="end">0.2</text>
<line x1="77.2" y1="767.92" x2="84.2" y2="767.92" stroke="#000" stroke-width="2.4"/>
<text x="75" y="774.12" font-size="17.5" text-anchor="end">0.4</text>
<line x1="77.2" y1="730.78" x2="84.2" y2="730.78" stroke="#000" stroke-width="2.4"/>
<text x="75" y="736.98" font-size="17.5" text-anchor="end">0.6</text>
<line x1="77.2" y1="693.64" x2="84.2" y2="693.64" stroke="#000" stroke-width="2.4"/>
<text x="75" y="699.84" font-size="17.5" text-anchor="end">0.8</text>
<line x1="77.2" y1="656.50" x2="84.2" y2="656.50" stroke="#000" stroke-width="2.4"/>
<text x="75" y="662.70" font-size="17.5" text-anchor="end">1.0</text>
<line x1="77.2" y1="619.36" x2="84.2" y2="619.36" stroke="#000" stroke-width="2.4"/>
<text x="75" y="625.56" font-size="17.5" text-anchor="end">1.2</text>
<line x1="84.20" y1="842.2" x2="84.20" y2="848.7" stroke="#000" stroke-width="2.4"/>
<text x="84.20" y="868.6" font-size="17.5" text-anchor="middle">0</text>
<line x1="140.00" y1="842.2" x2="140.00" y2="848.7" stroke="#000" stroke-width="2.4"/>
<text x="140.00" y="868.6" font-size="17.5" text-anchor="middle">30</text>
<line x1="195.80" y1="842.2" x2="195.80" y2="848.7" stroke="#000" stroke-width="2.4"/>
<text x="195.80" y="868.6" font-size="17.5" text-anchor="middle">60</text>
<line x1="251.60" y1="842.2" x2="251.60" y2="848.7" stroke="#000" stroke-width="2.4"/>
<text x="251.60" y="868.6" font-size="17.5" text-anchor="middle">90</text>
<line x1="307.40" y1="842.2" x2="307.40" y2="848.7" stroke="#000" stroke-width="2.4"/>
<text x="307.40" y="868.6" font-size="17.5" text-anchor="middle">120</text>
<line x1="363.20" y1="842.2" x2="363.20" y2="848.7" stroke="#000" stroke-width="2.4"/>
<text x="363.20" y="868.6" font-size="17.5" text-anchor="middle">150</text>
<line x1="419.00" y1="842.2" x2="419.00" y2="848.7" stroke="#000" stroke-width="2.4"/>
<text x="419.00" y="868.6" font-size="17.5" text-anchor="middle">180</text>
<text x="252.5" y="896.6" font-size="17.9" text-anchor="middle">Time (min)</text>
<text transform="translate(39.2,729.7) rotate(-90)" font-size="18" text-anchor="middle">Relative Signal (t0=1)</text>
<line x1="84.2" y1="656.50" x2="413.5" y2="656.50" stroke="#000" stroke-width="2.3" stroke-dasharray="5.8 5.3"/>
<line x1="84.20" y1="653.80" x2="84.20" y2="659.00" stroke="#00c800" stroke-width="2.0"/><circle cx="84.20" cy="656.4" r="2.4" fill="#00c800"/><line x1="89.78" y1="665.50" x2="89.78" y2="674.70" stroke="#00c800" stroke-width="2.0"/><circle cx="89.78" cy="670.1" r="2.4" fill="#00c800"/><line x1="95.36" y1="669.90" x2="95.36" y2="679.10" stroke="#00c800" stroke-width="2.0"/><circle cx="95.36" cy="674.5" r="2.4" fill="#00c800"/><line x1="100.94" y1="680.30" x2="100.94" y2="685.50" stroke="#00c800" stroke-width="2.0"/><circle cx="100.94" cy="682.9" r="2.4" fill="#00c800"/><line x1="106.52" y1="697.30" x2="106.52" y2="702.50" stroke="#00c800" stroke-width="2.0"/><circle cx="106.52" cy="699.9" r="2.4" fill="#00c800"/><line x1="112.10" y1="717.50" x2="112.10" y2="722.70" stroke="#00c800" stroke-width="2.0"/><circle cx="112.10" cy="720.1" r="2.4" fill="#00c800"/><line x1="117.68" y1="736.70" x2="117.68" y2="741.90" stroke="#00c800" stroke-width="2.0"/><circle cx="117.68" cy="739.3" r="2.4" fill="#00c800"/><line x1="123.26" y1="752.80" x2="123.26" y2="758.00" stroke="#00c800" stroke-width="2.0"/><circle cx="123.26" cy="755.4" r="2.4" fill="#00c800"/><line x1="128.84" y1="763.90" x2="128.84" y2="769.10" stroke="#00c800" stroke-width="2.0"/><circle cx="128.84" cy="766.5" r="2.4" fill="#00c800"/><line x1="134.42" y1="773.00" x2="134.42" y2="778.20" stroke="#00c800" stroke-width="2.0"/><circle cx="134.42" cy="775.6" r="2.4" fill="#00c800"/><line x1="140.00" y1="778.30" x2="140.00" y2="783.50" stroke="#00c800" stroke-width="2.0"/><circle cx="140.00" cy="780.9" r="2.4" fill="#00c800"/><line x1="145.58" y1="782.60" x2="145.58" y2="787.80" stroke="#00c800" stroke-width="2.0"/><circle cx="145.58" cy="785.2" r="2.4" fill="#00c800"/><line x1="151.16" y1="785.40" x2="151.16" y2="790.60" stroke="#00c800" stroke-width="2.0"/><circle cx="151.16" cy="788.0" r="2.4" fill="#00c800"/><line x1="156.74" y1="787.60" x2="156.74" y2="792.80" stroke="#00c800" stroke-width="2.0"/><circle cx="156.74" cy="790.2" r="2.4" fill="#00c800"/><line x1="162.32" y1="789.00" x2="162.32" y2="794.20" stroke="#00c800" stroke-width="2.0"/><circle cx="162.32" cy="791.6" r="2.4" fill="#00c800"/><line x1="167.90" y1="790.20" x2="167.90" y2="795.40" stroke="#00c800" stroke-width="2.0"/><circle cx="167.90" cy="792.8" r="2.4" fill="#00c800"/><line x1="173.48" y1="790.50" x2="173.48" y2="795.70" stroke="#00c800" stroke-width="2.0"/><circle cx="173.48" cy="793.1" r="2.4" fill="#00c800"/><line x1="179.06" y1="790.30" x2="179.06" y2="795.50" stroke="#00c800" stroke-width="2.0"/><circle cx="179.06" cy="792.9" r="2.4" fill="#00c800"/><line x1="184.64" y1="790.60" x2="184.64" y2="795.80" stroke="#00c800" stroke-width="2.0"/><circle cx="184.64" cy="793.2" r="2.4" fill="#00c800"/><line x1="190.22" y1="790.80" x2="190.22" y2="796.00" stroke="#00c800" stroke-width="2.0"/><circle cx="190.22" cy="793.4" r="2.4" fill="#00c800"/><line x1="195.80" y1="790.30" x2="195.80" y2="795.50" stroke="#00c800" stroke-width="2.0"/><circle cx="195.80" cy="792.9" r="2.4" fill="#00c800"/><line x1="201.38" y1="790.80" x2="201.38" y2="796.00" stroke="#00c800" stroke-width="2.0"/><circle cx="201.38" cy="793.4" r="2.4" fill="#00c800"/><line x1="206.96" y1="790.30" x2="206.96" y2="795.50" stroke="#00c800" stroke-width="2.0"/><circle cx="206.96" cy="792.9" r="2.4" fill="#00c800"/><line x1="212.54" y1="789.70" x2="212.54" y2="794.90" stroke="#00c800" stroke-width="2.0"/><circle cx="212.54" cy="792.3" r="2.4" fill="#00c800"/><line x1="218.12" y1="789.20" x2="218.12" y2="794.40" stroke="#00c800" stroke-width="2.0"/><circle cx="218.12" cy="791.8" r="2.4" fill="#00c800"/><line x1="223.70" y1="788.90" x2="223.70" y2="794.10" stroke="#00c800" stroke-width="2.0"/><circle cx="223.70" cy="791.5" r="2.4" fill="#00c800"/><line x1="229.28" y1="788.50" x2="229.28" y2="793.70" stroke="#00c800" stroke-width="2.0"/><circle cx="229.28" cy="791.1" r="2.4" fill="#00c800"/><line x1="234.86" y1="788.50" x2="234.86" y2="793.70" stroke="#00c800" stroke-width="2.0"/><circle cx="234.86" cy="791.1" r="2.4" fill="#00c800"/><line x1="240.44" y1="789.00" x2="240.44" y2="794.20" stroke="#00c800" stroke-width="2.0"/><circle cx="240.44" cy="791.6" r="2.4" fill="#00c800"/><line x1="246.02" y1="787.80" x2="246.02" y2="793.00" stroke="#00c800" stroke-width="2.0"/><circle cx="246.02" cy="790.4" r="2.4" fill="#00c800"/><line x1="251.60" y1="787.50" x2="251.60" y2="793.90" stroke="#00c800" stroke-width="2.0"/><circle cx="251.60" cy="790.7" r="2.4" fill="#00c800"/><line x1="257.18" y1="787.40" x2="257.18" y2="793.80" stroke="#00c800" stroke-width="2.0"/><circle cx="257.18" cy="790.6" r="2.4" fill="#00c800"/><line x1="262.76" y1="787.20" x2="262.76" y2="793.60" stroke="#00c800" stroke-width="2.0"/><circle cx="262.76" cy="790.4" r="2.4" fill="#00c800"/><line x1="268.34" y1="786.50" x2="268.34" y2="792.90" stroke="#00c800" stroke-width="2.0"/><circle cx="268.34" cy="789.7" r="2.4" fill="#00c800"/><line x1="273.92" y1="786.70" x2="273.92" y2="793.10" stroke="#00c800" stroke-width="2.0"/><circle cx="273.92" cy="789.9" r="2.4" fill="#00c800"/><line x1="279.50" y1="786.50" x2="279.50" y2="792.90" stroke="#00c800" stroke-width="2.0"/><circle cx="279.50" cy="789.7" r="2.4" fill="#00c800"/><line x1="285.08" y1="786.80" x2="285.08" y2="793.20" stroke="#00c800" stroke-width="2.0"/><circle cx="285.08" cy="790.0" r="2.4" fill="#00c800"/><line x1="290.66" y1="787.50" x2="290.66" y2="793.90" stroke="#00c800" stroke-width="2.0"/><circle cx="290.66" cy="790.7" r="2.4" fill="#00c800"/><line x1="296.24" y1="786.00" x2="296.24" y2="792.40" stroke="#00c800" stroke-width="2.0"/><circle cx="296.24" cy="789.2" r="2.4" fill="#00c800"/><line x1="301.82" y1="786.40" x2="301.82" y2="792.80" stroke="#00c800" stroke-width="2.0"/><circle cx="301.82" cy="789.6" r="2.4" fill="#00c800"/><line x1="307.40" y1="786.40" x2="307.40" y2="792.80" stroke="#00c800" stroke-width="2.0"/><circle cx="307.40" cy="789.6" r="2.4" fill="#00c800"/><line x1="312.98" y1="785.40" x2="312.98" y2="791.80" stroke="#00c800" stroke-width="2.0"/><circle cx="312.98" cy="788.6" r="2.4" fill="#00c800"/><line x1="318.56" y1="785.40" x2="318.56" y2="791.80" stroke="#00c800" stroke-width="2.0"/><circle cx="318.56" cy="788.6" r="2.4" fill="#00c800"/><line x1="324.14" y1="785.00" x2="324.14" y2="791.40" stroke="#00c800" stroke-width="2.0"/><circle cx="324.14" cy="788.2" r="2.4" fill="#00c800"/><line x1="329.72" y1="785.00" x2="329.72" y2="791.40" stroke="#00c800" stroke-width="2.0"/><circle cx="329.72" cy="788.2" r="2.4" fill="#00c800"/><line x1="335.30" y1="784.60" x2="335.30" y2="791.00" stroke="#00c800" stroke-width="2.0"/><circle cx="335.30" cy="787.8" r="2.4" fill="#00c800"/><line x1="340.88" y1="784.60" x2="340.88" y2="791.00" stroke="#00c800" stroke-width="2.0"/><circle cx="340.88" cy="787.8" r="2.4" fill="#00c800"/><line x1="346.46" y1="783.80" x2="346.46" y2="790.20" stroke="#00c800" stroke-width="2.0"/><circle cx="346.46" cy="787.0" r="2.4" fill="#00c800"/><line x1="352.04" y1="783.20" x2="352.04" y2="791.20" stroke="#00c800" stroke-width="2.0"/><circle cx="352.04" cy="787.2" r="2.4" fill="#00c800"/><line x1="357.62" y1="782.60" x2="357.62" y2="790.60" stroke="#00c800" stroke-width="2.0"/><circle cx="357.62" cy="786.6" r="2.4" fill="#00c800"/><line x1="363.20" y1="782.20" x2="363.20" y2="790.20" stroke="#00c800" stroke-width="2.0"/><circle cx="363.20" cy="786.2" r="2.4" fill="#00c800"/><line x1="368.78" y1="781.80" x2="368.78" y2="789.80" stroke="#00c800" stroke-width="2.0"/><circle cx="368.78" cy="785.8" r="2.4" fill="#00c800"/><line x1="374.36" y1="781.30" x2="374.36" y2="789.30" stroke="#00c800" stroke-width="2.0"/><circle cx="374.36" cy="785.3" r="2.4" fill="#00c800"/><line x1="379.94" y1="780.70" x2="379.94" y2="788.70" stroke="#00c800" stroke-width="2.0"/><circle cx="379.94" cy="784.7" r="2.4" fill="#00c800"/><line x1="385.52" y1="781.10" x2="385.52" y2="789.10" stroke="#00c800" stroke-width="2.0"/><circle cx="385.52" cy="785.1" r="2.4" fill="#00c800"/><line x1="391.10" y1="779.90" x2="391.10" y2="787.90" stroke="#00c800" stroke-width="2.0"/><circle cx="391.10" cy="783.9" r="2.4" fill="#00c800"/><line x1="396.68" y1="779.30" x2="396.68" y2="787.30" stroke="#00c800" stroke-width="2.0"/><circle cx="396.68" cy="783.3" r="2.4" fill="#00c800"/><line x1="402.26" y1="778.90" x2="402.26" y2="786.90" stroke="#00c800" stroke-width="2.0"/><circle cx="402.26" cy="782.9" r="2.4" fill="#00c800"/><line x1="407.84" y1="778.50" x2="407.84" y2="786.50" stroke="#00c800" stroke-width="2.0"/><circle cx="407.84" cy="782.5" r="2.4" fill="#00c800"/><line x1="413.42" y1="777.90" x2="413.42" y2="785.90" stroke="#00c800" stroke-width="2.0"/><circle cx="413.42" cy="781.9" r="2.4" fill="#00c800"/><line x1="84.20" y1="653.80" x2="84.20" y2="659.00" stroke="#0000ff" stroke-width="2.0"/><circle cx="84.20" cy="656.4" r="2.4" fill="#0000ff"/><line x1="89.78" y1="660.50" x2="89.78" y2="665.70" stroke="#0000ff" stroke-width="2.0"/><circle cx="89.78" cy="663.1" r="2.4" fill="#0000ff"/><line x1="95.36" y1="664.80" x2="95.36" y2="670.00" stroke="#0000ff" stroke-width="2.0"/><circle cx="95.36" cy="667.4" r="2.4" fill="#0000ff"/><line x1="100.94" y1="706.70" x2="100.94" y2="711.90" stroke="#0000ff" stroke-width="2.0"/><circle cx="100.94" cy="709.3" r="2.4" fill="#0000ff"/><line x1="106.52" y1="744.00" x2="106.52" y2="749.20" stroke="#0000ff" stroke-width="2.0"/><circle cx="106.52" cy="746.6" r="2.4" fill="#0000ff"/><line x1="112.10" y1="764.10" x2="112.10" y2="769.30" stroke="#0000ff" stroke-width="2.0"/><circle cx="112.10" cy="766.7" r="2.4" fill="#0000ff"/><line x1="117.68" y1="775.20" x2="117.68" y2="780.40" stroke="#0000ff" stroke-width="2.0"/><circle cx="117.68" cy="777.8" r="2.4" fill="#0000ff"/><line x1="123.26" y1="781.10" x2="123.26" y2="786.30" stroke="#0000ff" stroke-width="2.0"/><circle cx="123.26" cy="783.7" r="2.4" fill="#0000ff"/><line x1="128.84" y1="784.10" x2="128.84" y2="789.30" stroke="#0000ff" stroke-width="2.0"/><circle cx="128.84" cy="786.7" r="2.4" fill="#0000ff"/><line x1="134.42" y1="786.70" x2="134.42" y2="791.90" stroke="#0000ff" stroke-width="2.0"/><circle cx="134.42" cy="789.3" r="2.4" fill="#0000ff"/><line x1="140.00" y1="786.90" x2="140.00" y2="792.10" stroke="#0000ff" stroke-width="2.0"/><circle cx="140.00" cy="789.5" r="2.4" fill="#0000ff"/><line x1="145.58" y1="786.70" x2="145.58" y2="791.90" stroke="#0000ff" stroke-width="2.0"/><circle cx="145.58" cy="789.3" r="2.4" fill="#0000ff"/><line x1="151.16" y1="785.30" x2="151.16" y2="790.50" stroke="#0000ff" stroke-width="2.0"/><circle cx="151.16" cy="787.9" r="2.4" fill="#0000ff"/><line x1="156.74" y1="782.90" x2="156.74" y2="788.10" stroke="#0000ff" stroke-width="2.0"/><circle cx="156.74" cy="785.5" r="2.4" fill="#0000ff"/><line x1="162.32" y1="780.00" x2="162.32" y2="785.20" stroke="#0000ff" stroke-width="2.0"/><circle cx="162.32" cy="782.6" r="2.4" fill="#0000ff"/><line x1="167.90" y1="776.40" x2="167.90" y2="781.60" stroke="#0000ff" stroke-width="2.0"/><circle cx="167.90" cy="779.0" r="2.4" fill="#0000ff"/><line x1="173.48" y1="773.10" x2="173.48" y2="778.30" stroke="#0000ff" stroke-width="2.0"/><circle cx="173.48" cy="775.7" r="2.4" fill="#0000ff"/><line x1="179.06" y1="768.90" x2="179.06" y2="774.10" stroke="#0000ff" stroke-width="2.0"/><circle cx="179.06" cy="771.5" r="2.4" fill="#0000ff"/><line x1="184.64" y1="765.20" x2="184.64" y2="770.40" stroke="#0000ff" stroke-width="2.0"/><circle cx="184.64" cy="767.8" r="2.4" fill="#0000ff"/><line x1="190.22" y1="761.70" x2="190.22" y2="766.90" stroke="#0000ff" stroke-width="2.0"/><circle cx="190.22" cy="764.3" r="2.4" fill="#0000ff"/><line x1="195.80" y1="757.80" x2="195.80" y2="763.00" stroke="#0000ff" stroke-width="2.0"/><circle cx="195.80" cy="760.4" r="2.4" fill="#0000ff"/><line x1="201.38" y1="753.80" x2="201.38" y2="759.00" stroke="#0000ff" stroke-width="2.0"/><circle cx="201.38" cy="756.4" r="2.4" fill="#0000ff"/><line x1="206.96" y1="750.00" x2="206.96" y2="755.20" stroke="#0000ff" stroke-width="2.0"/><circle cx="206.96" cy="752.6" r="2.4" fill="#0000ff"/><line x1="212.54" y1="745.90" x2="212.54" y2="751.10" stroke="#0000ff" stroke-width="2.0"/><circle cx="212.54" cy="748.5" r="2.4" fill="#0000ff"/><line x1="218.12" y1="741.50" x2="218.12" y2="747.90" stroke="#0000ff" stroke-width="2.0"/><circle cx="218.12" cy="744.7" r="2.4" fill="#0000ff"/><line x1="223.70" y1="737.60" x2="223.70" y2="744.00" stroke="#0000ff" stroke-width="2.0"/><circle cx="223.70" cy="740.8" r="2.4" fill="#0000ff"/><line x1="229.28" y1="733.60" x2="229.28" y2="740.00" stroke="#0000ff" stroke-width="2.0"/><circle cx="229.28" cy="736.8" r="2.4" fill="#0000ff"/><line x1="234.86" y1="729.70" x2="234.86" y2="736.10" stroke="#0000ff" stroke-width="2.0"/><circle cx="234.86" cy="732.9" r="2.4" fill="#0000ff"/><line x1="240.44" y1="725.70" x2="240.44" y2="732.10" stroke="#0000ff" stroke-width="2.0"/><circle cx="240.44" cy="728.9" r="2.4" fill="#0000ff"/><line x1="246.02" y1="721.30" x2="246.02" y2="727.70" stroke="#0000ff" stroke-width="2.0"/><circle cx="246.02" cy="724.5" r="2.4" fill="#0000ff"/><line x1="251.60" y1="717.50" x2="251.60" y2="723.90" stroke="#0000ff" stroke-width="2.0"/><circle cx="251.60" cy="720.7" r="2.4" fill="#0000ff"/><line x1="257.18" y1="713.40" x2="257.18" y2="719.80" stroke="#0000ff" stroke-width="2.0"/><circle cx="257.18" cy="716.6" r="2.4" fill="#0000ff"/><line x1="262.76" y1="709.40" x2="262.76" y2="715.80" stroke="#0000ff" stroke-width="2.0"/><circle cx="262.76" cy="712.6" r="2.4" fill="#0000ff"/><line x1="268.34" y1="705.00" x2="268.34" y2="711.40" stroke="#0000ff" stroke-width="2.0"/><circle cx="268.34" cy="708.2" r="2.4" fill="#0000ff"/><line x1="273.92" y1="701.30" x2="273.92" y2="707.70" stroke="#0000ff" stroke-width="2.0"/><circle cx="273.92" cy="704.5" r="2.4" fill="#0000ff"/><line x1="279.50" y1="697.50" x2="279.50" y2="703.90" stroke="#0000ff" stroke-width="2.0"/><circle cx="279.50" cy="700.7" r="2.4" fill="#0000ff"/><line x1="285.08" y1="692.40" x2="285.08" y2="700.80" stroke="#0000ff" stroke-width="2.0"/><circle cx="285.08" cy="696.6" r="2.4" fill="#0000ff"/><line x1="290.66" y1="688.70" x2="290.66" y2="697.10" stroke="#0000ff" stroke-width="2.0"/><circle cx="290.66" cy="692.9" r="2.4" fill="#0000ff"/><line x1="296.24" y1="684.70" x2="296.24" y2="693.10" stroke="#0000ff" stroke-width="2.0"/><circle cx="296.24" cy="688.9" r="2.4" fill="#0000ff"/><line x1="301.82" y1="680.40" x2="301.82" y2="688.80" stroke="#0000ff" stroke-width="2.0"/><circle cx="301.82" cy="684.6" r="2.4" fill="#0000ff"/><line x1="307.40" y1="678.30" x2="307.40" y2="686.70" stroke="#0000ff" stroke-width="2.0"/><circle cx="307.40" cy="682.5" r="2.4" fill="#0000ff"/><line x1="312.98" y1="674.20" x2="312.98" y2="682.60" stroke="#0000ff" stroke-width="2.0"/><circle cx="312.98" cy="678.4" r="2.4" fill="#0000ff"/><line x1="318.56" y1="670.80" x2="318.56" y2="679.20" stroke="#0000ff" stroke-width="2.0"/><circle cx="318.56" cy="675.0" r="2.4" fill="#0000ff"/><line x1="324.14" y1="667.20" x2="324.14" y2="675.60" stroke="#0000ff" stroke-width="2.0"/><circle cx="324.14" cy="671.4" r="2.4" fill="#0000ff"/><line x1="329.72" y1="664.40" x2="329.72" y2="672.80" stroke="#0000ff" stroke-width="2.0"/><circle cx="329.72" cy="668.6" r="2.4" fill="#0000ff"/><line x1="335.30" y1="661.40" x2="335.30" y2="669.80" stroke="#0000ff" stroke-width="2.0"/><circle cx="335.30" cy="665.6" r="2.4" fill="#0000ff"/><line x1="340.88" y1="658.30" x2="340.88" y2="666.70" stroke="#0000ff" stroke-width="2.0"/><circle cx="340.88" cy="662.5" r="2.4" fill="#0000ff"/><line x1="346.46" y1="655.50" x2="346.46" y2="663.90" stroke="#0000ff" stroke-width="2.0"/><circle cx="346.46" cy="659.7" r="2.4" fill="#0000ff"/><line x1="352.04" y1="651.30" x2="352.04" y2="659.70" stroke="#0000ff" stroke-width="2.0"/><circle cx="352.04" cy="655.5" r="2.4" fill="#0000ff"/><line x1="357.62" y1="648.50" x2="357.62" y2="656.90" stroke="#0000ff" stroke-width="2.0"/><circle cx="357.62" cy="652.7" r="2.4" fill="#0000ff"/><line x1="363.20" y1="646.30" x2="363.20" y2="654.70" stroke="#0000ff" stroke-width="2.0"/><circle cx="363.20" cy="650.5" r="2.4" fill="#0000ff"/><line x1="368.78" y1="643.90" x2="368.78" y2="652.30" stroke="#0000ff" stroke-width="2.0"/><circle cx="368.78" cy="648.1" r="2.4" fill="#0000ff"/><line x1="374.36" y1="641.40" x2="374.36" y2="649.80" stroke="#0000ff" stroke-width="2.0"/><circle cx="374.36" cy="645.6" r="2.4" fill="#0000ff"/><line x1="379.94" y1="639.10" x2="379.94" y2="647.50" stroke="#0000ff" stroke-width="2.0"/><circle cx="379.94" cy="643.3" r="2.4" fill="#0000ff"/><line x1="385.52" y1="637.30" x2="385.52" y2="645.70" stroke="#0000ff" stroke-width="2.0"/><circle cx="385.52" cy="641.5" r="2.4" fill="#0000ff"/><line x1="391.10" y1="635.60" x2="391.10" y2="644.00" stroke="#0000ff" stroke-width="2.0"/><circle cx="391.10" cy="639.8" r="2.4" fill="#0000ff"/><line x1="396.68" y1="631.70" x2="396.68" y2="640.10" stroke="#0000ff" stroke-width="2.0"/><circle cx="396.68" cy="635.9" r="2.4" fill="#0000ff"/><line x1="402.26" y1="630.80" x2="402.26" y2="639.20" stroke="#0000ff" stroke-width="2.0"/><circle cx="402.26" cy="635.0" r="2.4" fill="#0000ff"/><line x1="407.84" y1="630.60" x2="407.84" y2="639.00" stroke="#0000ff" stroke-width="2.0"/><circle cx="407.84" cy="634.8" r="2.4" fill="#0000ff"/><line x1="413.42" y1="628.10" x2="413.42" y2="636.50" stroke="#0000ff" stroke-width="2.0"/><circle cx="413.42" cy="632.3" r="2.4" fill="#0000ff"/>
<circle cx="440.4" cy="704.4" r="2.5" fill="#0000ff"/><text x="465.7" y="710.6" font-size="18">Endogenous</text>
<circle cx="440.4" cy="734.6" r="2.5" fill="#00c800"/><text x="465.7" y="740.4" font-size="18" letter-spacing="-0.15">Overexpressed</text>
<text x="0" y="986.3" font-size="19.8">d</text>
<text x="205.8" y="1000.3" font-size="18.5" text-anchor="middle">Time (h)</text>
<text x="114.65" y="1019.6" font-size="16.5" text-anchor="middle">0</text>
<text x="149.5" y="1019.6" font-size="16.5" text-anchor="middle">0.5</text>
<text x="186.1" y="1019.6" font-size="16.5" text-anchor="middle">1</text>
<text x="221.1" y="1019.6" font-size="16.5" text-anchor="middle">2</text>
<text x="257.9" y="1019.6" font-size="16.5" text-anchor="middle">3</text>
<text x="292.2" y="1019.6" font-size="16.5" text-anchor="middle">4</text>
<rect x="89" y="1022.9" width="228.2" height="60.6" fill="rgb(246,246,246)"/>
<rect x="89" y="1088.2" width="228.2" height="45.0" fill="rgb(232,232,232)"/>
<rect x="99.5" y="1024" width="31" height="58" fill="rgb(233,233,233)" filter="url(#b2)"/>
<rect x="136.0" y="1024" width="31.0" height="58" fill="rgb(233,233,233)" filter="url(#b2)"/>
<rect x="171.5" y="1024" width="32" height="58" fill="rgb(233,233,233)" filter="url(#b2)"/>
<rect x="208.0" y="1024" width="31.5" height="58" fill="rgb(233,233,233)" filter="url(#b2)"/>
<rect x="244.5" y="1024" width="31" height="58" fill="rgb(233,233,233)" filter="url(#b2)"/>
<rect x="280.5" y="1024" width="31" height="58" fill="rgb(233,233,233)" filter="url(#b2)"/>
<rect x="284" y="1032" width="21" height="13" fill="rgb(225,225,225)" filter="url(#b3)"/>
<rect x="248" y="1036" width="23" height="10" fill="rgb(228,228,228)" filter="url(#b3)"/>
<path d="M101.3,1060.3 C101.3,1058.3 103.3,1058.3 105.3,1058.3 Q115.2,1058.2 125.0,1058.7 C127.0,1058.7 129.0,1059.5 129.0,1060.7 C129.0,1061.9 127.0,1062.7 125.0,1062.7 Q115.2,1062.8 105.3,1062.3 C103.3,1062.3 101.3,1062.3 101.3,1060.3Z" fill="rgb(214,214,214)" filter="url(#b3)"/>
<path d="M138.0,1062.1 C138.0,1060.1 140.0,1060.1 142.0,1060.1 Q150.2,1059.6 158.3,1059.7 C160.3,1059.7 162.3,1060.5 162.3,1061.7 C162.3,1062.9 160.3,1063.7 158.3,1063.7 Q150.2,1064.2 142.0,1064.1 C140.0,1064.1 138.0,1064.1 138.0,1062.1Z" fill="rgb(214,214,214)" filter="url(#b3)"/>
<path d="M174.0,1060.9 C174.0,1058.9 176.0,1058.9 178.0,1058.9 Q186.8,1058.3 195.5,1058.3 C197.5,1058.3 199.5,1059.1 199.5,1060.3 C199.5,1061.5 197.5,1062.3 195.5,1062.3 Q186.8,1062.9 178.0,1062.9 C176.0,1062.9 174.0,1062.9 174.0,1060.9Z" fill="rgb(214,214,214)" filter="url(#b3)"/>
<path d="M209.8,1060.9 C209.8,1058.9 211.8,1058.9 213.8,1058.9 Q223.2,1058.5 232.7,1058.7 C234.7,1058.7 236.7,1059.5 236.7,1060.7 C236.7,1061.9 234.7,1062.7 232.7,1062.7 Q223.2,1063.1 213.8,1062.9 C211.8,1062.9 209.8,1062.9 209.8,1060.9Z" fill="rgb(214,214,214)" filter="url(#b3)"/>
<path d="M246.2,1059.6 C246.2,1057.6 248.2,1057.6 250.2,1057.6 Q259.4,1056.5 268.6,1055.9 C270.6,1055.9 272.6,1056.7 272.6,1057.9 C272.6,1059.1 270.6,1059.9 268.6,1059.9 Q259.4,1061.0 250.2,1061.6 C248.2,1061.6 246.2,1061.6 246.2,1059.6Z" fill="rgb(214,214,214)" filter="url(#b3)"/>
<path d="M282.5,1056.7 C282.5,1054.7 284.5,1054.7 286.5,1054.7 Q294.2,1054.1 301.9,1054.1 C303.9,1054.1 305.9,1054.9 305.9,1056.1 C305.9,1057.3 303.9,1058.1 301.9,1058.1 Q294.2,1058.7 286.5,1058.7 C284.5,1058.7 282.5,1058.7 282.5,1056.7Z" fill="rgb(214,214,214)" filter="url(#b3)"/>
<path d="M99.8,1053.0 C99.8,1049.4 101.8,1049.4 103.8,1049.4 Q115.2,1049.3 126.5,1049.8 C128.5,1049.8 130.5,1051.2 130.5,1053.4 C130.5,1055.6 128.5,1057.0 126.5,1057.0 Q115.2,1057.1 103.8,1056.6 C101.8,1056.6 99.8,1056.6 99.8,1053.0Z" fill="rgb(130,130,130)" filter="url(#b2)"/><path d="M100.3,1053.0 C100.3,1050.7 102.3,1050.7 104.3,1050.7 Q115.2,1050.6 126.0,1051.1 C128.0,1051.1 130.0,1052.0 130.0,1053.4 C130.0,1054.8 128.0,1055.7 126.0,1055.7 Q115.2,1055.8 104.3,1055.3 C102.3,1055.3 100.3,1055.3 100.3,1053.0Z" fill="rgb(5,5,5)" filter="url(#b1)"/>
<path d="M136.5,1054.8 C136.5,1052.4 138.5,1052.4 140.5,1052.4 Q150.2,1051.9 159.8,1052.0 C161.8,1052.0 163.8,1053.0 163.8,1054.4 C163.8,1055.8 161.8,1056.8 159.8,1056.8 Q150.2,1057.3 140.5,1057.2 C138.5,1057.2 136.5,1057.2 136.5,1054.8Z" fill="rgb(201,201,201)" filter="url(#b2)"/><path d="M137.0,1054.8 C137.0,1053.7 139.0,1053.7 141.0,1053.7 Q150.2,1053.2 159.3,1053.3 C161.3,1053.3 163.3,1053.7 163.3,1054.4 C163.3,1055.1 161.3,1055.5 159.3,1055.5 Q150.2,1056.0 141.0,1055.9 C139.0,1055.9 137.0,1055.9 137.0,1054.8Z" fill="rgb(162,162,162)" filter="url(#b1)"/>
<path d="M172.5,1053.6 C172.5,1051.0 174.5,1051.0 176.5,1051.0 Q186.8,1050.5 197.0,1050.5 C199.0,1050.5 201.0,1051.5 201.0,1053.0 C201.0,1054.5 199.0,1055.5 197.0,1055.5 Q186.8,1056.1 176.5,1056.1 C174.5,1056.1 172.5,1056.1 172.5,1053.6Z" fill="rgb(188,188,188)" filter="url(#b2)"/><path d="M173.0,1053.6 C173.0,1052.3 175.0,1052.3 177.0,1052.3 Q186.8,1051.8 196.5,1051.8 C198.5,1051.8 200.5,1052.2 200.5,1053.0 C200.5,1053.8 198.5,1054.2 196.5,1054.2 Q186.8,1054.8 177.0,1054.8 C175.0,1054.8 173.0,1054.8 173.0,1053.6Z" fill="rgb(135,135,135)" filter="url(#b1)"/>
<path d="M208.3,1053.6 C208.3,1051.0 210.3,1051.0 212.3,1051.0 Q223.2,1050.6 234.2,1050.8 C236.2,1050.8 238.2,1051.8 238.2,1053.4 C238.2,1055.0 236.2,1056.0 234.2,1056.0 Q223.2,1056.4 212.3,1056.2 C210.3,1056.2 208.3,1056.2 208.3,1053.6Z" fill="rgb(185,185,185)" filter="url(#b2)"/><path d="M208.8,1053.6 C208.8,1052.3 210.8,1052.3 212.8,1052.3 Q223.2,1051.9 233.7,1052.1 C235.7,1052.1 237.7,1052.6 237.7,1053.4 C237.7,1054.2 235.7,1054.7 233.7,1054.7 Q223.2,1055.1 212.8,1054.9 C210.8,1054.9 208.8,1054.9 208.8,1053.6Z" fill="rgb(128,128,128)" filter="url(#b1)"/>
<path d="M244.7,1052.3 C244.7,1049.5 246.7,1049.5 248.7,1049.5 Q259.4,1048.3 270.1,1047.8 C272.1,1047.8 274.1,1048.9 274.1,1050.6 C274.1,1052.3 272.1,1053.4 270.1,1053.4 Q259.4,1054.5 248.7,1055.1 C246.7,1055.1 244.7,1055.1 244.7,1052.3Z" fill="rgb(164,164,164)" filter="url(#b2)"/><path d="M245.2,1052.3 C245.2,1050.8 247.2,1050.8 249.2,1050.8 Q259.4,1049.6 269.6,1049.1 C271.6,1049.1 273.6,1049.7 273.6,1050.6 C273.6,1051.5 271.6,1052.1 269.6,1052.1 Q259.4,1053.2 249.2,1053.8 C247.2,1053.8 245.2,1053.8 245.2,1052.3Z" fill="rgb(80,80,80)" filter="url(#b1)"/>
<path d="M281.0,1049.4 C281.0,1046.5 283.0,1046.5 285.0,1046.5 Q294.2,1045.9 303.4,1045.9 C305.4,1045.9 307.4,1047.1 307.4,1048.8 C307.4,1050.5 305.4,1051.7 303.4,1051.7 Q294.2,1052.3 285.0,1052.3 C283.0,1052.3 281.0,1052.3 281.0,1049.4Z" fill="rgb(156,156,156)" filter="url(#b2)"/><path d="M281.5,1049.4 C281.5,1047.8 283.5,1047.8 285.5,1047.8 Q294.2,1047.2 302.9,1047.2 C304.9,1047.2 306.9,1047.8 306.9,1048.8 C306.9,1049.8 304.9,1050.4 302.9,1050.4 Q294.2,1051.0 285.5,1051.0 C283.5,1051.0 281.5,1051.0 281.5,1049.4Z" fill="rgb(62,62,62)" filter="url(#b1)"/>
<path d="M95.4,1116.4 C95.4,1112.4 97.4,1112.4 99.4,1112.4 Q115.6,1112.1 131.8,1112.4 C133.8,1112.4 135.8,1114.0 135.8,1116.4 C135.8,1118.8 133.8,1120.4 131.8,1120.4 Q115.6,1120.7 99.4,1120.4 C97.4,1120.4 95.4,1120.4 95.4,1116.4Z" fill="rgb(149,149,149)" filter="url(#b2)"/><path d="M95.9,1116.4 C95.9,1113.9 97.9,1113.9 99.9,1113.9 Q115.6,1113.6 131.3,1113.9 C133.3,1113.9 135.3,1114.9 135.3,1116.4 C135.3,1117.9 133.3,1118.9 131.3,1118.9 Q115.6,1119.2 99.9,1118.9 C97.9,1118.9 95.9,1118.9 95.9,1116.4Z" fill="rgb(30,30,30)" filter="url(#b4)"/>
<path d="M134.8,1116.6 C134.8,1112.9 136.8,1112.9 138.8,1112.9 Q151.9,1112.8 165.1,1113.3 C167.1,1113.3 169.1,1114.8 169.1,1117.0 C169.1,1119.2 167.1,1120.7 165.1,1120.7 Q151.9,1120.8 138.8,1120.3 C136.8,1120.3 134.8,1120.3 134.8,1116.6Z" fill="rgb(150,150,150)" filter="url(#b2)"/><path d="M135.3,1116.6 C135.3,1114.4 137.3,1114.4 139.3,1114.4 Q151.9,1114.3 164.6,1114.8 C166.6,1114.8 168.6,1115.7 168.6,1117.0 C168.6,1118.3 166.6,1119.2 164.6,1119.2 Q151.9,1119.3 139.3,1118.8 C137.3,1118.8 135.3,1118.8 135.3,1116.6Z" fill="rgb(32,32,32)" filter="url(#b4)"/>
<path d="M170.7,1117.2 C170.7,1113.5 172.7,1113.5 174.7,1113.5 Q188.3,1113.4 201.9,1113.9 C203.9,1113.9 205.9,1115.4 205.9,1117.6 C205.9,1119.8 203.9,1121.3 201.9,1121.3 Q188.3,1121.4 174.7,1120.9 C172.7,1120.9 170.7,1120.9 170.7,1117.2Z" fill="rgb(149,149,149)" filter="url(#b2)"/><path d="M171.2,1117.2 C171.2,1115.0 173.2,1115.0 175.2,1115.0 Q188.3,1114.9 201.4,1115.4 C203.4,1115.4 205.4,1116.3 205.4,1117.6 C205.4,1118.9 203.4,1119.8 201.4,1119.8 Q188.3,1119.9 175.2,1119.4 C173.2,1119.4 171.2,1119.4 171.2,1117.2Z" fill="rgb(30,30,30)" filter="url(#b4)"/>
<path d="M208.3,1118.0 C208.3,1114.8 210.3,1114.8 212.3,1114.8 Q224.6,1114.5 236.8,1114.8 C238.8,1114.8 240.8,1116.1 240.8,1118.0 C240.8,1119.9 238.8,1121.2 236.8,1121.2 Q224.6,1121.5 212.3,1121.2 C210.3,1121.2 208.3,1121.2 208.3,1118.0Z" fill="rgb(162,162,162)" filter="url(#b2)"/><path d="M208.8,1118.0 C208.8,1116.3 210.8,1116.3 212.8,1116.3 Q224.6,1116.0 236.3,1116.3 C238.3,1116.3 240.3,1117.0 240.3,1118.0 C240.3,1119.0 238.3,1119.7 236.3,1119.7 Q224.6,1120.0 212.8,1119.7 C210.8,1119.7 208.8,1119.7 208.8,1118.0Z" fill="rgb(62,62,62)" filter="url(#b4)"/>
<path d="M243.3,1117.0 C243.3,1113.1 245.3,1113.1 247.3,1113.1 Q260.5,1112.4 273.6,1112.3 C275.6,1112.3 277.6,1113.9 277.6,1116.2 C277.6,1118.5 275.6,1120.1 273.6,1120.1 Q260.5,1120.8 247.3,1120.9 C245.3,1120.9 243.3,1120.9 243.3,1117.0Z" fill="rgb(151,151,151)" filter="url(#b2)"/><path d="M243.8,1117.0 C243.8,1114.6 245.8,1114.6 247.8,1114.6 Q260.5,1113.9 273.1,1113.8 C275.1,1113.8 277.1,1114.8 277.1,1116.2 C277.1,1117.6 275.1,1118.6 273.1,1118.6 Q260.5,1119.3 247.8,1119.4 C245.8,1119.4 243.8,1119.4 243.8,1117.0Z" fill="rgb(35,35,35)" filter="url(#b4)"/>
<path d="M279.2,1115.2 C279.2,1111.0 281.2,1111.0 283.2,1111.0 Q295.9,1110.5 308.6,1110.6 C310.6,1110.6 312.6,1112.3 312.6,1114.8 C312.6,1117.3 310.6,1119.0 308.6,1119.0 Q295.9,1119.5 283.2,1119.4 C281.2,1119.4 279.2,1119.4 279.2,1115.2Z" fill="rgb(146,146,146)" filter="url(#b2)"/><path d="M279.7,1115.2 C279.7,1112.5 281.7,1112.5 283.7,1112.5 Q295.9,1112.0 308.1,1112.1 C310.1,1112.1 312.1,1113.2 312.1,1114.8 C312.1,1116.4 310.1,1117.5 308.1,1117.5 Q295.9,1118.0 283.7,1117.9 C281.7,1117.9 279.7,1117.9 279.7,1115.2Z" fill="rgb(22,22,22)" filter="url(#b4)"/>
<rect x="89" y="1022.9" width="228.2" height="60.6" filter="url(#noise)" opacity="0.15"/>
<rect x="89" y="1088.2" width="228.2" height="45.8" filter="url(#noise)" opacity="0.1"/>
<text x="319.69" y="1061" font-size="18.5">I<tspan font-family="Liberation Serif">κ</tspan>B</text><path d="M355.05,1056.93 C354.31,1054.15 353.38,1052.49 351.90,1052.49 C349.87,1052.49 348.66,1054.71 348.66,1057.12 C348.66,1059.70 349.87,1061.28 351.71,1061.28 C353.38,1061.28 354.49,1059.34 355.05,1056.93 M357.45,1052.67 C356.52,1054.53 355.60,1055.82 355.05,1056.93 C355.23,1058.78 355.60,1060.63 356.52,1061.00 C357.45,1061.28 358.19,1060.44 358.84,1059.70" fill="none" stroke="#000" stroke-width="1.44" stroke-linecap="round"/>
<text x="320" y="1116.9" font-size="18.5">COX IV</text></svg>
</body></html>
